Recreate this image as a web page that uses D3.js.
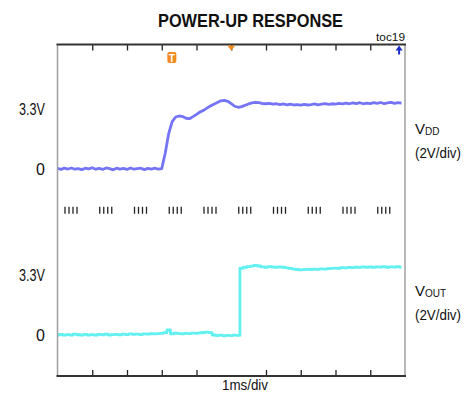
<!DOCTYPE html>
<html>
<head>
<meta charset="utf-8">
<script src="https://cdn.jsdelivr.net/npm/d3@7"></script>
<style>
  html, body { margin: 0; padding: 0; background: #fff; }
  svg { display: block; }
  text { font-family: "Liberation Sans", Arial, sans-serif; fill: #111; }
</style>
</head>
<body>
<svg id="chart" width="467" height="400"></svg>
<script>
// ---------------- data ----------------
const title = "POWER-UP RESPONSE";
const tocLabel = "toc19";
const xAxisLabel = "1ms/div";
// sample times in ms (1 ms per division, 10 divisions)
const timeMs = d3.range(0, 100).map(i => i / 10);

// VDD trace (volts), samples at timeMs
const vddVolts = [
  0.02,-0.03,0.03,-0.01,0.04,-0.02,0.01,-0.04,0.03,0.00,
  0.05,-0.02,0.02,-0.03,0.04,0.01,-0.05,0.03,-0.01,0.02,
  -0.03,0.04,-0.02,0.01,0.03,-0.04,0.02,-0.01,0.03,-0.02,
  0.01,0.75,1.70,2.28,2.50,2.55,2.52,2.44,2.42,2.52,
  2.63,2.74,2.82,2.93,3.03,3.12,3.20,3.28,3.30,3.26,
  3.15,3.02,2.97,3.00,3.07,3.13,3.18,3.21,3.19,3.15,
  3.14,3.16,3.12,3.14,3.10,3.13,3.09,3.12,3.08,3.10,
  3.07,3.11,3.08,3.10,3.13,3.09,3.12,3.15,3.11,3.14,
  3.12,3.16,3.13,3.17,3.14,3.18,3.15,3.19,3.14,3.17,
  3.15,3.19,3.16,3.20,3.15,3.18,3.21,3.16,3.19,3.17
];

// VOUT trace (volts), samples at timeMs
const voutVolts = [
  -0.02,0.01,-0.03,0.00,-0.02,0.02,-0.01,-0.03,0.01,-0.02,
  0.00,-0.03,0.01,-0.01,0.02,-0.02,0.00,0.01,-0.01,0.02,
  0.00,0.03,0.01,0.02,0.00,0.03,0.02,0.04,0.03,0.05,
  0.06,0.09,0.22,0.04,0.07,0.05,0.04,0.06,0.05,0.07,
  0.06,0.08,0.10,0.12,0.09,-0.02,-0.05,-0.03,-0.06,-0.04,
  -0.05,-0.03,-0.04,3.20,3.25,3.28,3.30,3.34,3.31,3.27,
  3.25,3.28,3.26,3.24,3.27,3.25,3.22,3.19,3.16,3.14,
  3.12,3.13,3.15,3.14,3.16,3.15,3.17,3.16,3.18,3.19,
  3.21,3.20,3.23,3.22,3.24,3.23,3.25,3.24,3.27,3.25,
  3.26,3.24,3.27,3.26,3.28,3.25,3.27,3.26,3.28,3.25
];

// channel setup: ground position (divisions from screen centre), volts per division
const channelSub = ["DD", "OUT"];
const channelScaleLabel = ["(2V/div)", "(2V/div)"];
const channelOffsetDiv = [1, -3];
const voltsPerDiv = 2;
const levelTickValues = [0, 3.3];
const levelTickLabels = ["0", "3.3V"];
const timeTickValues = [1, 2, 3, 4, 5, 6, 7, 8, 9];
const bottomTickValues = [1, 2, 3, 4, 6, 7, 8, 9];
const triggerTime = 3.29;   // "T" marker
const delayTime = 5.0;      // orange trigger-position marker
const endTime = 9.83;       // blue arrow

// ---------------- drawing ----------------
const svg = d3.select("#chart");
svg.append("rect").attr("width", 467).attr("height", 400).attr("fill", "#fff");

const frame = { left: 57.5, right: 405, top: 44.5, bottom: 376 };
const x = d3.scaleLinear().domain([0, 10]).range([frame.left, frame.right]);
const yDiv = d3.scaleLinear().domain([-4, 4]).range([frame.bottom, frame.top]);
const yChan = (ch, v) => yDiv(channelOffsetDiv[ch] + v / voltsPerDiv);

function narrow(sel, len) {
  return sel.attr("textLength", len).attr("lengthAdjust", "spacingAndGlyphs");
}

// title
narrow(svg.append("text").attr("x", 250.5).attr("y", 27).attr("text-anchor", "middle")
  .style("font-size", "18px").style("font-weight", "bold").text(title), 185);
narrow(svg.append("text").attr("x", frame.right).attr("y", 41).attr("text-anchor", "end")
  .style("font-size", "11px").text(tocLabel), 29);

// middle graticule ticks (groups of four per division)
const g = svg.append("g");
d3.range(0, 10).forEach(d => {
  for (let k = 0; k < 4; k++) {
    g.append("line")
      .attr("x1", x(d) + 7.5 + k * 4).attr("x2", x(d) + 7.5 + k * 4)
      .attr("y1", yDiv(0) - 3.5).attr("y2", yDiv(0) + 3.5)
      .attr("stroke", "#222").attr("stroke-width", 1.3);
  }
});

// traces
const lineVdd = d3.line().x((d, i) => x(timeMs[i])).y(d => yChan(0, d));
const lineVout = d3.line().curve(d3.curveStep).x((d, i) => x(timeMs[i])).y(d => yChan(1, d));
svg.append("path").datum(vddVolts).attr("d", lineVdd)
  .attr("fill", "none").attr("stroke", "#7474f4").attr("stroke-width", 2.8).attr("stroke-linejoin", "round");
svg.append("path").datum(voutVolts).attr("d", lineVout)
  .attr("fill", "none").attr("stroke", "#62f0f0").attr("stroke-width", 2.8).attr("stroke-linejoin", "round");

// axes ticks on frame
const topAxis = d3.axisTop(x).tickValues(timeTickValues).tickSize(-6).tickFormat("");
const botAxis = d3.axisBottom(x).tickValues(bottomTickValues).tickSize(-6).tickFormat("");
const ta = svg.append("g").attr("transform", `translate(0,${frame.top})`).call(topAxis);
const ba = svg.append("g").attr("transform", `translate(0,${frame.bottom})`).call(botAxis);
[ta, ba].forEach(a => {
  a.select(".domain").remove();
  a.selectAll(".tick line").attr("stroke", "#222").attr("stroke-width", 1.3);
});

// frame
svg.append("line").attr("x1", frame.left).attr("x2", frame.left).attr("y1", frame.top).attr("y2", frame.bottom)
  .attr("stroke", "#a0a0a0").attr("stroke-width", 1.5);
svg.append("line").attr("x1", frame.right).attr("x2", frame.right).attr("y1", frame.top).attr("y2", frame.bottom)
  .attr("stroke", "#a0a0a0").attr("stroke-width", 1.5);
svg.append("line").attr("x1", frame.left - 1).attr("x2", frame.right + 1).attr("y1", frame.top).attr("y2", frame.top)
  .attr("stroke", "#333").attr("stroke-width", 2);
svg.append("line").attr("x1", frame.left - 1).attr("x2", frame.right + 1).attr("y1", frame.bottom).attr("y2", frame.bottom)
  .attr("stroke", "#333").attr("stroke-width", 2);

// markers
const tx = x(triggerTime);
svg.append("rect").attr("x", tx - 4.5).attr("y", 52).attr("width", 9).attr("height", 11).attr("rx", 2)
  .attr("fill", "#f28a1e");
svg.append("text").attr("x", tx).attr("y", 61.5).attr("text-anchor", "middle")
  .style("font-size", "10px").style("font-weight", "bold").style("fill", "#fff").text("T");
const dx = x(delayTime);
svg.append("path").attr("d", `M${dx - 4},${frame.top + 1} L${dx + 4},${frame.top + 1} L${dx},${frame.top + 6} Z`)
  .attr("fill", "#f28a1e");
const ex = x(endTime);
svg.append("path").attr("d", `M${ex},${frame.top + 1} L${ex - 3.5},${frame.top + 6} L${ex - 1},${frame.top + 6} L${ex - 1},${frame.top + 10} L${ex + 1},${frame.top + 10} L${ex + 1},${frame.top + 6} L${ex + 3.5},${frame.top + 6} Z`)
  .attr("fill", "#1a2ccc");

// left level labels
[0, 1].forEach(ch => {
  levelTickValues.forEach((v, i) => {
    const t = svg.append("text").attr("x", 45).attr("y", yChan(ch, v) + (v > 0 ? 14.5 : 6.5))
      .attr("text-anchor", "end").style("font-size", "16px").text(levelTickLabels[i]);
    if (v > 0) narrow(t, 26);
  });
});

// right channel labels
[0, 1].forEach(ch => {
  const yb = yChan(ch, 0) - 35 - ch * 4;
  const t = svg.append("text").attr("x", 415).attr("y", yb).style("font-size", "15px");
  t.append("tspan").text("V");
  t.append("tspan").attr("dy", 1).style("font-size", "10px").text(channelSub[ch]);
  narrow(svg.append("text").attr("x", 415).attr("y", yb + 24).style("font-size", "15px").text(channelScaleLabel[ch]), 46);
});

// x label
narrow(svg.append("text").attr("x", 222).attr("y", 390)
  .style("font-size", "15px").text(xAxisLabel), 46);
</script>
</body>
</html>
